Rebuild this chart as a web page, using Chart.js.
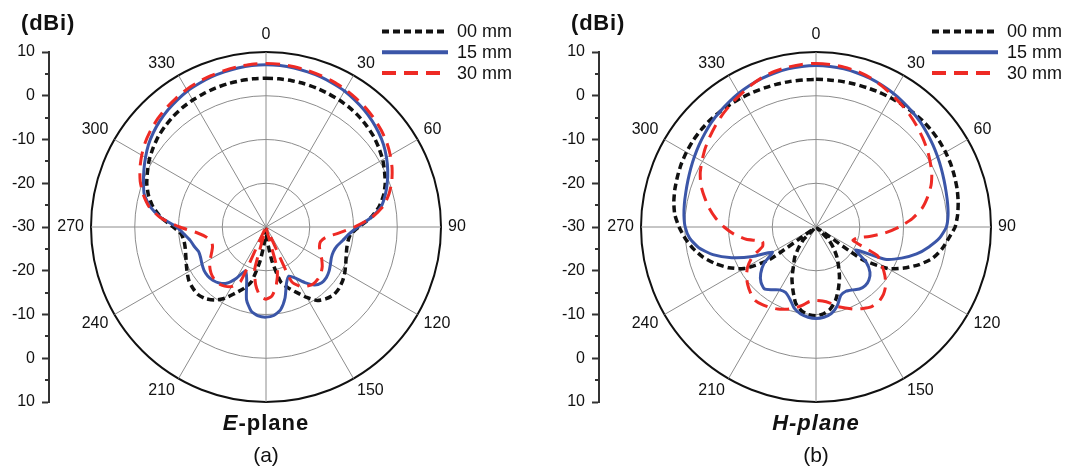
<!DOCTYPE html>
<html>
<head>
<meta charset="utf-8">
<script src="https://cdn.jsdelivr.net/npm/chart.js@4.4.1/dist/chart.umd.min.js"></script>
<style>
  html, body { margin: 0; padding: 0; background: #fff; }
  body { width: 1068px; height: 474px; overflow: hidden; position: relative;
         font-family: "Liberation Sans", Arial, sans-serif; color: #111; }
  .panel { position: absolute; top: 0; width: 550px; height: 474px; }
  .panel canvas { position: absolute; left: 0; top: 0; }
  .unit { position: absolute; left: 21px; top: 10px; font-weight: bold; font-size: 22px; letter-spacing: 0.8px; }
  .plane { position: absolute; left: 0; width: 532px; text-align: center; top: 410px;
           font-weight: bold; font-size: 22px; letter-spacing: 1px; }
  .tag { position: absolute; left: 0; width: 532px; text-align: center; top: 443px; font-size: 21px; }
</style>
</head>
<body>
<div class="panel" style="left:0px">
  <canvas id="ePlane" width="550" height="474"></canvas>
  <div class="unit">(dBi)</div>
  <div class="plane"><i>E</i>-plane</div>
  <div class="tag">(a)</div>
</div>
<div class="panel" style="left:550px">
  <canvas id="hPlane" width="550" height="474"></canvas>
  <div class="unit">(dBi)</div>
  <div class="plane"><i>H-plane</i></div>
  <div class="tag">(b)</div>
</div>

<script>
// Angular categories (degrees, clockwise from the top)
const angles = [
  0, 5, 10, 15, 20, 25, 30, 35, 40, 45, 50, 55,
  60, 65, 70, 75, 80, 85, 90, 95, 100, 105, 110, 115,
  120, 125, 130, 135, 140, 145, 150, 155, 160, 165, 170, 175,
  180, 185, 190, 195, 200, 205, 210, 215, 220, 225, 230, 235,
  240, 245, 250, 255, 260, 265, 270, 275, 280, 285, 290, 295,
  300, 305, 310, 315, 320, 325, 330, 335, 340, 345, 350, 355
];

// Tick labels
const angleTickLabels = ['0', '30', '60', '90', '120', '150', '', '210', '240', '270', '300', '330'];
const gainTickLabels = ['10', '0', '-10', '-20', '-30', '-20', '-10', '0', '10'];
const gainMinorTicks = [-35, -25, -15, -5, 5, 15, 25, 35];

// Series names
const seriesNames = ['00 mm', '15 mm', '30 mm'];

// E-plane gain (dBi)
const ePlane00 = [
  4.0, 4.0, 3.95, 3.9, 3.8, 3.65, 3.5, 3.3, 3.0, 2.6, 2.15, 1.5,
  0.8, -0.1, -1.0, -2.2, -3.8, -6.0, -8.8, -10.6, -11.0, -10.9, -10.5, -9.9,
  -9.2, -8.6, -8.2, -8.1, -8.6, -9.5, -11.4, -13.5, -15.2, -17.0, -22.0, -27.0,
  -29.5, -27.0, -22.0, -17.0, -15.0, -13.3, -11.2, -9.6, -8.6, -8.1, -8.2, -8.5,
  -9.2, -9.9, -10.5, -10.9, -11.0, -10.6, -8.8, -6.0, -3.8, -2.2, -1.0, -0.1,
  0.8, 1.5, 2.15, 2.6, 3.0, 3.3, 3.5, 3.65, 3.8, 3.9, 3.95, 4.0
];
const ePlane15 = [
  7.1, 7.05, 6.9, 6.7, 6.5, 6.2, 5.9, 5.4, 4.9, 4.3, 3.6, 2.8,
  1.8, 0.7, -0.5, -1.8, -3.3, -6.0, -9.0, -11.0, -12.2, -13.2, -13.6, -13.5,
  -13.0, -12.4, -12.0, -12.0, -12.7, -14.5, -16.5, -17.6, -16.3, -13.2, -10.8, -9.7,
  -9.4, -9.6, -10.5, -12.8, -17.1, -19.0, -16.5, -14.3, -13.3, -12.8, -12.6, -12.7,
  -13.1, -13.5, -13.6, -13.0, -12.4, -11.2, -9.6, -6.0, -3.1, -1.2, -0.2, 0.8,
  1.8, 2.8, 3.6, 4.3, 4.9, 5.4, 5.9, 6.2, 6.5, 6.7, 6.9, 7.05
];
const ePlane30 = [
  7.4, 7.35, 7.2, 7.0, 6.8, 6.6, 6.3, 5.9, 5.5, 5.0, 4.4, 3.7,
  2.8, 1.8, 0.6, -0.9, -2.8, -5.8, -9.8, -13.5, -16.2, -17.1, -17.0, -16.3,
  -15.3, -14.3, -13.6, -13.2, -13.1, -13.5, -14.3, -16.3, -29.5, -20.0, -16.5, -14.2,
  -13.5, -14.2, -16.5, -20.0, -29.5, -16.3, -14.3, -13.5, -13.1, -13.2, -13.6, -14.3,
  -15.3, -16.3, -17.0, -17.1, -16.3, -14.3, -10.3, -5.8, -2.8, -0.9, 0.6, 1.8,
  2.8, 3.7, 4.4, 5.0, 5.5, 5.9, 6.3, 6.6, 6.8, 7.0, 7.2, 7.35
];

// H-plane gain (dBi)
const hPlane00 = [
  3.75, 3.75, 3.8, 3.85, 3.9, 4.0, 4.1, 4.2, 4.3, 4.4, 4.4, 4.35,
  4.2, 4.0, 3.7, 3.4, 3.0, 2.5, 1.8, 0.4, -0.8, -2.4, -4.9, -7.8,
  -11.0, -17.0, -29.5, -26.0, -23.8, -21.7, -19.7, -17.3, -15.0, -12.7, -11.0, -10.1,
  -9.7, -9.9, -10.6, -12.0, -14.6, -17.0, -19.7, -21.5, -23.8, -26.0, -29.5, -17.0,
  -11.0, -8.0, -5.5, -3.3, -1.5, 0.0, 1.3, 2.4, 3.0, 3.4, 3.7, 4.0,
  4.2, 4.35, 4.4, 4.4, 4.3, 4.2, 4.1, 4.0, 3.9, 3.85, 3.8, 3.75
];
const hPlane15 = [
  6.9, 6.85, 6.7, 6.45, 6.15, 5.75, 5.3, 4.8, 4.3, 3.8, 3.2, 2.65,
  2.1, 1.6, 1.15, 0.8, 0.55, 0.3, -0.2, -1.6, -3.8, -6.2, -9.2, -12.6,
  -19.5, -16.0, -13.9, -12.9, -12.5, -12.7, -13.4, -13.8, -13.4, -11.3, -9.9, -9.3,
  -9.1, -9.3, -9.8, -10.8, -12.5, -13.5, -13.4, -12.5, -11.6, -12.2, -13.5, -15.5,
  -18.5, -14.0, -9.5, -5.6, -2.8, -1.0, -0.1, 0.3, 0.55, 0.8, 1.15, 1.6,
  2.1, 2.65, 3.2, 3.8, 4.3, 4.8, 5.3, 5.75, 6.15, 6.45, 6.7, 6.85
];
const hPlane30 = [
  7.4, 7.3, 7.1, 6.8, 6.3, 5.6, 4.8, 4.1, 3.4, 2.6, 1.8, 1.0,
  0.1, -0.8, -2.0, -3.6, -5.4, -7.9, -11.0, -14.2, -17.6, -20.3, -21.0, -14.5,
  -12.6, -10.8, -9.2, -8.2, -7.7, -7.8, -8.5, -9.3, -10.3, -11.2, -12.4, -13.0,
  -13.2, -12.9, -11.8, -10.8, -10.0, -9.3, -8.8, -8.4, -8.2, -8.8, -9.6, -10.6,
  -12.0, -14.0, -17.0, -17.3, -13.8, -11.2, -9.0, -7.0, -5.2, -3.6, -2.0, -0.8,
  0.1, 1.0, 1.8, 2.6, 3.4, 4.1, 4.8, 5.6, 6.3, 6.8, 7.1, 7.3
];

const FONT = '"Liberation Sans", Arial, sans-serif';
const TEXT = '#111';

// Line styles for 00 mm, 15 mm, 30 mm
const seriesStyles = [
  { color: '#111111', dash: [7, 4], width: 3.5, order: 2 },
  { color: '#3b56a8', dash: [], width: 3, order: 1 },
  { color: '#ee2a24', dash: [14, 8], width: 3, order: 0 }
];

// Angle labels every 30 degrees, anchored just outside the outer ring
const angleLabelPlugin = {
  id: 'angleLabels',
  afterDraw(chart) {
    const s = chart.scales.r;
    const ctx = chart.ctx;
    const gap = 7, capH = 12;
    ctx.save();
    ctx.font = '16px ' + FONT;
    ctx.fillStyle = TEXT;
    ctx.textBaseline = 'middle';
    angleTickLabels.forEach((txt, k) => {
      if (!txt) return;
      const deg = k * 30;
      const idx = angles.indexOf(deg);
      const p = s.getPointPosition(idx, s.drawingArea + gap);
      let y = p.y;
      if (deg === 90 || deg === 270) {
        ctx.textAlign = deg === 90 ? 'left' : 'right';
      } else if (deg === 0) {
        ctx.textAlign = 'center';
        y -= capH / 2 + 4;
      } else {
        ctx.textAlign = deg < 180 ? 'left' : 'right';
        y += (deg < 90 || deg > 270) ? -capH / 2 : capH / 2;
      }
      ctx.fillText(txt, p.x, y);
    });
    ctx.restore();
  }
};

// Short minor ticks on the gain axis
const minorTickPlugin = {
  id: 'minorTicks',
  afterDraw(chart) {
    const y = chart.scales.y;
    const ctx = chart.ctx;
    ctx.save();
    ctx.strokeStyle = '#333';
    ctx.lineWidth = 2;
    gainMinorTicks.forEach(v => {
      const py = Math.round(y.getPixelForValue(v));
      ctx.beginPath();
      ctx.moveTo(y.right - 4, py);
      ctx.lineTo(y.right, py);
      ctx.stroke();
    });
    ctx.restore();
  }
};

// Key with line samples in the upper right corner
const keyPlugin = {
  id: 'seriesKey',
  afterDraw(chart) {
    const ctx = chart.ctx;
    ctx.save();
    ctx.font = '18px ' + FONT;
    ctx.textBaseline = 'middle';
    chart.data.datasets.forEach((ds, i) => {
      const yy = 31.5 + i * 20.8;
      ctx.strokeStyle = ds.borderColor;
      ctx.lineWidth = 4;
      ctx.setLineDash(ds.borderDash);
      ctx.beginPath();
      ctx.moveTo(382, yy);
      ctx.lineTo(448, yy);
      ctx.stroke();
      ctx.setLineDash([]);
      ctx.fillStyle = TEXT;
      ctx.fillText(ds.label, 457, yy + 1);
    });
    ctx.restore();
  }
};

function makePanel(id, series) {
  const datasets = series.map((vals, i) => ({
    label: seriesNames[i],
    data: vals,
    borderColor: seriesStyles[i].color,
    borderWidth: seriesStyles[i].width,
    borderDash: seriesStyles[i].dash,
    order: seriesStyles[i].order,
    fill: false,
    pointRadius: 0,
    tension: 0.2
  }));
  return new Chart(document.getElementById(id), {
    type: 'radar',
    data: { labels: angles, datasets },
    options: {
      responsive: false,
      animation: false,
      events: [],
      layout: { padding: { top: 52, bottom: 72, left: 0, right: 67 } },
      plugins: { legend: { display: false }, tooltip: { enabled: false } },
      scales: {
        r: {
          min: -30, max: 10, beginAtZero: false,
          ticks: { display: false, stepSize: 10 },
          pointLabels: { display: false },
          grid: {
            circular: true,
            color: c => (c.tick && c.tick.value === 10 ? '#111' : '#8c8c8c'),
            lineWidth: c => (c.tick && c.tick.value === 10 ? 2 : 1)
          },
          angleLines: {
            display: true,
            color: '#8c8c8c',
            lineWidth: c => (c.index % 6 === 0 ? 1 : 0)
          }
        },
        y: {
          type: 'linear',
          position: 'left',
          min: -40, max: 40,
          afterFit: s => { s.width = 49; },
          ticks: {
            stepSize: 10, autoSkip: false, padding: 7,
            color: TEXT, font: { family: FONT, size: 16 },
            callback: (v, i) => gainTickLabels[i]
          },
          grid: {
            drawOnChartArea: false, drawTicks: true, tickLength: 7,
            tickWidth: 2, tickColor: '#333', color: '#333'
          },
          border: { display: true, color: '#333', width: 2 }
        }
      }
    },
    plugins: [angleLabelPlugin, minorTickPlugin, keyPlugin]
  });
}

makePanel('ePlane', [ePlane00, ePlane15, ePlane30]);
makePanel('hPlane', [hPlane00, hPlane15, hPlane30]);
</script>
</body>
</html>
